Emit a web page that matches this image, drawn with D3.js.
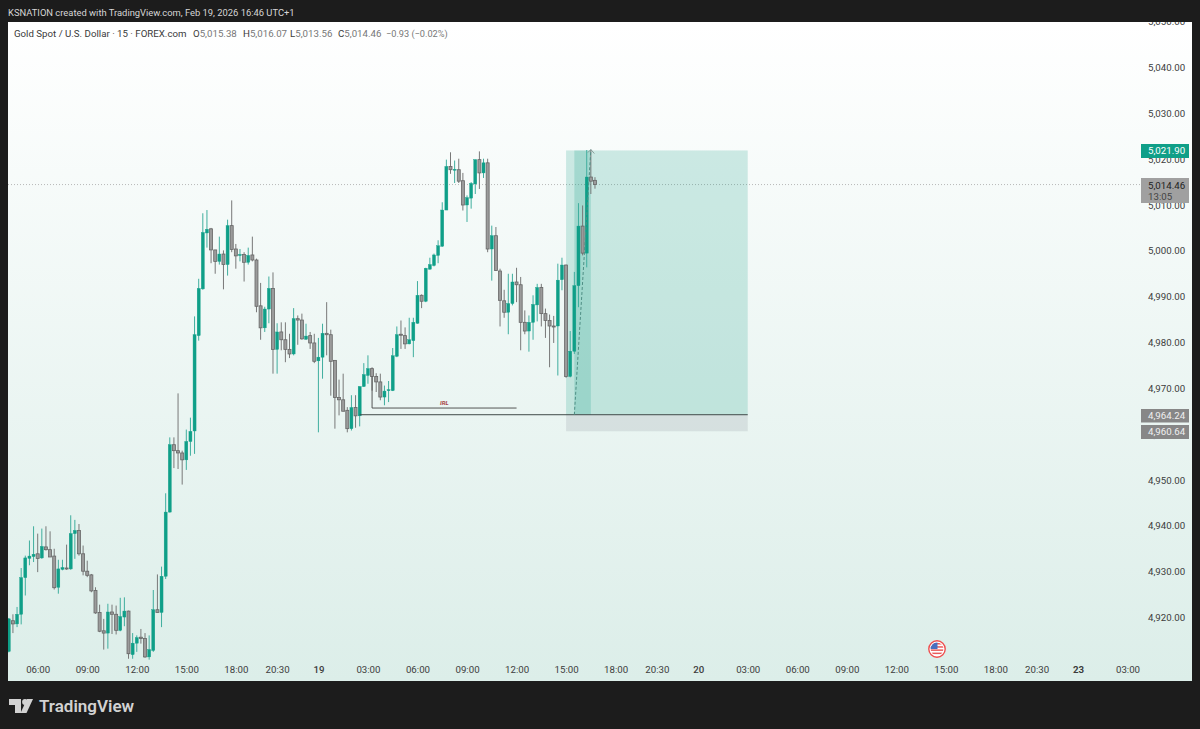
<!DOCTYPE html>
<html>
<head>
<meta charset="utf-8">
<script src="https://cdn.jsdelivr.net/npm/d3@7"></script>
<style>
    html, body { margin: 0; padding: 0; background: #1c1c1c; }
    svg { display: block; }
    text { font-family: Roboto, sans-serif; }
</style>
</head>
<body>
<svg id="chart" width="1200" height="729"></svg>
<script>
// 15 minute bars, oldest first
const opens = [4912.6,4919.3,4918.6,4920.7,4928.7,4932.9,4933.3,4933.9,4933.0,4935.4,4934.8,4933.4,4926.6,4930.5,4930.8,4930.6,4938.3,4939.0,4933.9,4930.1,
    4929.3,4925.9,4921.1,4917.1,4916.6,4921.2,4920.7,4917.2,4920.1,4921.4,4911.9,4914.4,4915.7,4915.4,4911.4,4912.8,4921.7,4921.1,4929.0,4943.0,
    4957.7,4956.4,4955.9,4954.4,4958.4,4960.7,4981.5,4991.7,5003.9,5004.8,5000.2,4997.7,4999.3,4997.0,5005.5,5000.4,4999.0,4999.2,4997.5,4999.1,
    4998.0,4988.0,4983.2,4987.3,4991.8,4978.5,4982.3,4980.6,4978.5,4977.5,4985.2,4984.9,4980.7,4981.5,4979.9,4976.0,4976.8,4982.0,4981.7,4976.1,
    4968.0,4967.5,4965.2,4961.2,4965.8,4964.0,4970.4,4972.8,4974.3,4972.6,4971.4,4968.1,4969.5,4969.5,4977.0,4981.8,4981.5,4979.7,4980.4,4984.2,
    4990.3,4989.0,4996.0,4996.8,4999.0,5001.0,5008.9,5018.4,5017.6,5017.7,5015.3,5010.0,5011.5,5014.6,5019.9,5017.0,5019.2,5000.4,5003.3,4995.6,
    4989.1,4986.6,4988.5,4993.2,4992.6,4984.4,4982.5,4984.4,4988.2,4992.0,4986.3,4984.8,4983.6,4983.6,4993.7,4996.9,4972.6,4978.1,4992.4,5005.4,
    4999.5,5016.1,5015.38]
const highs = [4919.9,4920.7,4922.3,4930.8,4933.5,4936.8,4939.9,4938.3,4939.4,4939.9,4938.8,4935.0,4932.6,4932.6,4935.9,4942.3,4941.3,4940.4,4935.7,4932.4,
    4929.5,4926.6,4922.8,4919.7,4923.0,4922.8,4922.6,4924.3,4924.4,4921.5,4916.6,4916.1,4917.5,4916.6,4916.1,4926.0,4929.4,4931.1,4947.1,4959.3,
    4959.3,4968.9,4956.4,4961.0,4963.6,4985.7,4993.9,5008.2,5008.9,5005.0,5000.2,5003.1,5000.1,5006.8,5011.0,5001.5,5000.4,4999.7,5000.7,5003.1,
    4998.3,4993.0,4987.8,4994.4,4995.3,4984.2,4984.4,4984.4,4981.9,4987.5,4985.9,4986.3,4984.1,4982.3,4981.9,4981.0,4984.1,4988.8,4982.8,4976.1,
    4971.9,4973.2,4965.9,4968.5,4968.5,4970.4,4975.5,4977.2,4974.6,4973.3,4973.2,4970.6,4971.6,4978.8,4983.5,4984.8,4983.3,4985.4,4985.4,4993.4,
    4990.5,4996.3,4998.5,4999.4,5002.3,5010.6,5019.9,5021.5,5019.7,5020.1,5017.0,5012.1,5015.0,5019.9,5021.7,5020.1,5020.1,5005.5,5005.2,4996.1,
    4991.5,4995.0,4995.0,4996.3,4994.3,4987.0,4985.9,4990.3,4992.8,4992.8,4987.4,4986.1,4985.8,4997.2,4998.5,4997.0,4982.5,4995.4,5010.4,5009.9,
    5022.0,5022.0,5016.07]
const lows = [4912.4,4916.6,4917.9,4918.5,4924.8,4931.4,4932.1,4929.9,4932.8,4934.6,4933.2,4926.1,4925.2,4930.3,4930.4,4930.4,4932.8,4933.5,4929.2,4928.8,
    4925.5,4920.8,4916.8,4913.0,4913.2,4916.4,4916.3,4917.0,4918.1,4911.0,4911.0,4912.5,4914.3,4911.2,4910.8,4912.5,4921.1,4917.9,4928.4,4942.9,
    4952.6,4952.4,4949.0,4952.2,4955.3,4955.7,4980.4,4991.5,5000.7,4997.3,4995.0,4997.0,4991.6,4994.6,4999.7,4996.1,4997.7,4993.3,4997.0,4997.7,
    4986.6,4980.6,4982.3,4984.2,4973.2,4973.2,4978.3,4975.7,4976.6,4977.2,4979.5,4980.6,4980.6,4978.6,4975.5,4960.4,4972.1,4977.2,4968.4,4961.2,
    4964.1,4965.0,4960.4,4960.8,4961.4,4961.7,4970.3,4971.0,4969.5,4969.2,4967.4,4966.3,4967.0,4969.4,4976.8,4978.6,4978.6,4979.6,4976.8,4984.1,
    4987.5,4988.8,4995.9,4996.6,4997.3,5000.9,5008.9,5016.8,5014.8,5014.8,5008.8,5006.3,5009.2,5012.4,5013.5,5015.9,4999.7,4993.5,4995.6,4983.5,
    4985.4,4981.8,4988.1,4988.8,4978.3,4981.8,4978.0,4980.6,4984.6,4983.5,4981.0,4974.6,4979.9,4972.8,4991.4,4972.3,4972.4,4977.5,4987.7,4999.0,
    4996.4,5012.4,5013.56]
const closes = [4919.7,4918.6,4920.7,4928.7,4933.0,4933.4,4933.8,4932.9,4935.5,4934.8,4933.2,4926.5,4930.6,4930.9,4930.6,4938.3,4939.0,4933.9,4930.1,4929.2,
    4925.8,4921.0,4917.0,4916.6,4921.2,4920.7,4917.2,4920.2,4921.4,4912.1,4914.4,4915.6,4915.4,4911.4,4913.0,4921.7,4921.1,4929.0,4943.0,4957.7,
    4956.4,4955.9,4954.4,4958.4,4960.6,4981.7,4991.8,5004.0,5004.7,5000.2,4997.7,4999.3,4997.0,5005.5,5000.3,4998.9,4999.2,4997.5,4999.0,4998.0,
    4987.9,4983.2,4987.3,4991.8,4978.5,4982.3,4980.6,4978.5,4977.5,4985.2,4984.9,4980.8,4981.4,4979.9,4975.9,4976.8,4982.0,4981.7,4975.9,4968.0,
    4967.5,4965.0,4961.2,4965.8,4964.0,4970.4,4973.0,4974.3,4972.6,4971.4,4968.1,4969.4,4969.7,4977.1,4981.7,4981.6,4979.7,4980.6,4984.4,4990.3,
    4989.0,4996.2,4997.0,4999.1,5001.1,5008.9,5018.4,5017.7,5017.8,5015.2,5010.0,5011.6,5014.7,5019.9,5017.0,5019.2,5000.4,5003.3,4995.7,4989.2,
    4986.6,4988.5,4993.2,4992.6,4984.4,4982.5,4984.4,4988.3,4992.0,4986.3,4984.8,4983.6,4983.5,4993.6,4996.9,4972.6,4978.1,4992.4,5005.4,4999.5,
    5016.1,5015.2,5014.46]

const priceTicks = [4920,4930,4940,4950,4960,4970,4980,4990,5000,5010,5020,5030,5040,5050]
const timeTickBars = [7,19,31,43,55,65,75,87,99,111,123,135,147,157,167,179,191,203,215,227,239,249,259,271]
const timeTickLabels = ['06:00','09:00','12:00','15:00','18:00','20:30','19','03:00','06:00','09:00','12:00','15:00','18:00','20:30','20','03:00','06:00','09:00','12:00','15:00','18:00','20:30','23','03:00']

// long position tool
const entryPrice = 4964.24
const targetPrice = 5021.90
const stopPrice = 4960.64
const lastPrice = 5014.46
const irlPrice = 4965.7

const GREEN = '#0f9f88'
const GREEN_WICK = '#3fae9e'
const GREY = '#9b9b9b'
const GREY_EDGE = '#666666'
const FONT_SIZE = 9.7

const svg = d3.select('#chart')
const pane = { left: 8, top: 22, right: 1192, bottom: 681 }

const x = d3.scaleLinear().domain([0, 271]).range([8.8, 1127.5])
const y = d3.scaleLinear().domain([4920, 5040]).range([617.5, 67.5])

const defs = svg.append('defs')
const grad = defs.append('linearGradient')
    .attr('id', 'bg').attr('x1', 0).attr('x2', 0).attr('y1', 0).attr('y2', 1)
grad.append('stop').attr('offset', '0%').attr('stop-color', '#ffffff')
grad.append('stop').attr('offset', '100%').attr('stop-color', '#dceee9')
defs.append('clipPath').attr('id', 'paneClip').append('rect')
    .attr('x', pane.left).attr('y', pane.top)
    .attr('width', pane.right - pane.left).attr('height', pane.bottom - pane.top)
defs.append('clipPath').attr('id', 'flagClip').append('circle')
    .attr('cx', 937).attr('cy', 649).attr('r', 6.4)

svg.append('rect')
    .attr('x', pane.left).attr('y', pane.top)
    .attr('width', pane.right - pane.left).attr('height', pane.bottom - pane.top)
    .attr('fill', 'url(#bg)')

const plot = svg.append('g').attr('clip-path', 'url(#paneClip)')

// last price dotted line
plot.append('line')
    .attr('x1', pane.left).attr('x2', 1141)
    .attr('y1', y(lastPrice)).attr('y2', y(lastPrice))
    .attr('stroke', '#a8a8a8').attr('stroke-width', 0.8).attr('stroke-dasharray', '1,2')

// profit / loss zones
plot.append('rect')
    .attr('x', x(135)).attr('width', x(179) - x(135))
    .attr('y', y(targetPrice)).attr('height', y(entryPrice) - y(targetPrice))
    .attr('fill', '#089981').attr('fill-opacity', 0.19)
plot.append('rect')
    .attr('x', x(137)).attr('width', x(141) - x(137))
    .attr('y', y(targetPrice)).attr('height', y(entryPrice) - y(targetPrice))
    .attr('fill', '#089981').attr('fill-opacity', 0.2)
plot.append('rect')
    .attr('x', x(135)).attr('width', x(179) - x(135))
    .attr('y', y(entryPrice)).attr('height', y(stopPrice) - y(entryPrice))
    .attr('fill', '#787b86').attr('fill-opacity', 0.17)

// candles
const bars = d3.range(opens.length)
const isUp = i => closes[i] >= opens[i]

plot.append('g').selectAll('line').data(bars).join('line')
    .attr('x1', i => x(i)).attr('x2', i => x(i))
    .attr('y1', i => y(highs[i])).attr('y2', i => y(lows[i]))
    .attr('stroke', i => isUp(i) ? GREEN_WICK : '#787878')
    .attr('stroke-width', 1)

plot.append('g').selectAll('rect').data(bars).join('rect')
    .attr('x', i => x(i) - 1.5)
    .attr('width', 3)
    .attr('y', i => y(Math.max(opens[i], closes[i])))
    .attr('height', i => Math.max(1, Math.abs(y(opens[i]) - y(closes[i]))))
    .attr('fill', i => isUp(i) ? GREEN : GREY)
    .attr('stroke', i => isUp(i) ? GREEN : GREY_EDGE)
    .attr('stroke-width', i => isUp(i) ? 0.4 : 0.8)

// entry line, IRL level
plot.append('line')
    .attr('x1', x(85)).attr('x2', x(179))
    .attr('y1', y(entryPrice)).attr('y2', y(entryPrice))
    .attr('stroke', '#3f4a48').attr('stroke-width', 1)
plot.append('path')
    .attr('d', d3.line()([[x(88), y(4972.6)], [x(88), y(irlPrice)], [x(123), y(irlPrice)]]))
    .attr('fill', 'none').attr('stroke', '#444').attr('stroke-width', 0.9)
plot.append('text')
    .attr('x', x(105.5)).attr('y', y(irlPrice) - 3.5)
    .attr('text-anchor', 'middle')
    .attr('font-size', 6).attr('font-style', 'italic').attr('font-weight', 700)
    .attr('fill', '#a84646')
    .text('IRL')

// dashed move arrow
const arrowEnd = [x(141), y(targetPrice + 0.2)]
plot.append('path')
    .attr('d', d3.line()([[x(137), y(entryPrice)], arrowEnd]))
    .attr('fill', 'none').attr('stroke', '#4f8f85').attr('stroke-width', 1).attr('stroke-dasharray', '3,2')
plot.append('path')
    .attr('d', d3.line()([[arrowEnd[0] - 3, arrowEnd[1] + 3], arrowEnd, [arrowEnd[0] + 3.5, arrowEnd[1] + 4]]))
    .attr('fill', 'none').attr('stroke', '#7a8a88').attr('stroke-width', 0.8)

// axes
const yAxis = d3.axisRight(y).tickValues(priceTicks).tickSize(0)
    .tickFormat(d => d3.format(',.2f')(d))
const yAxisG = plot.append('g').attr('transform', 'translate(1148,0)').call(yAxis)
yAxisG.select('.domain').remove()
yAxisG.selectAll('text').attr('x', 0).attr('font-size', FONT_SIZE)
    .attr('font-family', 'Roboto, sans-serif').attr('fill', '#3c3c3c')

const xAxis = d3.axisBottom(x).tickValues(timeTickBars).tickSize(0)
    .tickFormat((d, i) => timeTickLabels[i])
const xAxisG = plot.append('g').attr('transform', 'translate(0,661)').call(xAxis)
xAxisG.select('.domain').remove()
xAxisG.selectAll('text').attr('y', 5).attr('font-size', FONT_SIZE)
    .attr('font-family', 'Roboto, sans-serif').attr('fill', '#3c3c3c')
    .attr('font-weight', (d, i) => {
        const label = timeTickLabels[i]
        if (label === '23') return 700
        return label.length === 2 ? 500 : 400
    })

// price scale labels
const priceTags = [
    { price: targetPrice, top: 144, h: 14, fill: '#0f9f88', color: '#ffffff' },
    { price: entryPrice, top: 409, h: 13.5, fill: '#878787', color: '#f0f0f0' },
    { price: stopPrice, top: 425, h: 14, fill: '#878787', color: '#f0f0f0' },
]
const tagFormat = d3.format(',.2f')
priceTags.forEach(t => {
    svg.append('rect').attr('x', 1141).attr('y', t.top).attr('width', 48).attr('height', t.h).attr('fill', t.fill)
    svg.append('text').attr('x', 1148).attr('y', t.top + t.h / 2 + 3.4)
        .attr('font-size', FONT_SIZE).attr('fill', t.color).text(tagFormat(t.price))
})
svg.append('rect').attr('x', 1141).attr('y', 178).attr('width', 48).attr('height', 25).attr('fill', '#a0a0a0')
svg.append('text').attr('x', 1148).attr('y', 188.6).attr('font-size', FONT_SIZE).attr('fill', '#222').text(tagFormat(lastPrice))
svg.append('text').attr('x', 1148).attr('y', 200.4).attr('font-size', FONT_SIZE).attr('fill', '#444').text('13:05')

// economic event flag
const flag = svg.append('g')
flag.append('circle').attr('cx', 937).attr('cy', 649).attr('r', 8.2)
    .attr('fill', '#ffffff').attr('stroke', '#ef4f50').attr('stroke-width', 1.4)
const flagInner = flag.append('g').attr('clip-path', 'url(#flagClip)')
flagInner.append('rect').attr('x', 930).attr('y', 642).attr('width', 14).attr('height', 14).attr('fill', '#ffffff')
d3.range(4).forEach(k => {
    flagInner.append('rect').attr('x', 930).attr('y', 643 + k * 3.2).attr('width', 14).attr('height', 1.5).attr('fill', '#e85a5a')
})
flagInner.append('rect').attr('x', 930).attr('y', 642).attr('width', 7.5).attr('height', 7).attr('fill', '#4a6fc0')

// header and legend
svg.append('text').attr('x', 8).attr('y', 15.5)
    .attr('font-size', 9.4).attr('fill', '#d6d6d6')
    .text('KSNATION created with TradingView.com, Feb 19, 2026 16:46 UTC+1')

const legend = svg.append('text').attr('y', 37).attr('font-size', FONT_SIZE).attr('fill', '#3a3a3a')
legend.append('tspan').attr('x', 14).text('Gold Spot / U.S. Dollar · 15 · FOREX.com')
const legendItems = [['O', '5,015.38', 193], ['H', '5,016.07', 243], ['L', '5,013.56', 290], ['C', '5,014.46', 338]]
legendItems.forEach(d => {
    legend.append('tspan').attr('x', d[2]).text(d[0])
    legend.append('tspan').attr('fill', '#777').text(d[1])
})
legend.append('tspan').attr('x', 386).attr('fill', '#777').attr('font-size', 9.2).text('−0.93 (−0.02%)')

// logo
const logo = svg.append('g').attr('fill', '#d2d2d2')
logo.append('path').attr('d', 'M9 699H21V713H15V705H9Z')
logo.append('circle').attr('cx', 25).attr('cy', 702).attr('r', 2.9)
logo.append('path').attr('d', 'M27 699H33L26.5 713H20.5Z')
svg.append('text').attr('x', 39).attr('y', 712)
    .attr('font-family', 'Inter, Roboto, sans-serif')
    .attr('font-size', 17).attr('font-weight', 600).attr('fill', '#d2d2d2')
    .text('TradingView')
</script>
</body>
</html>
